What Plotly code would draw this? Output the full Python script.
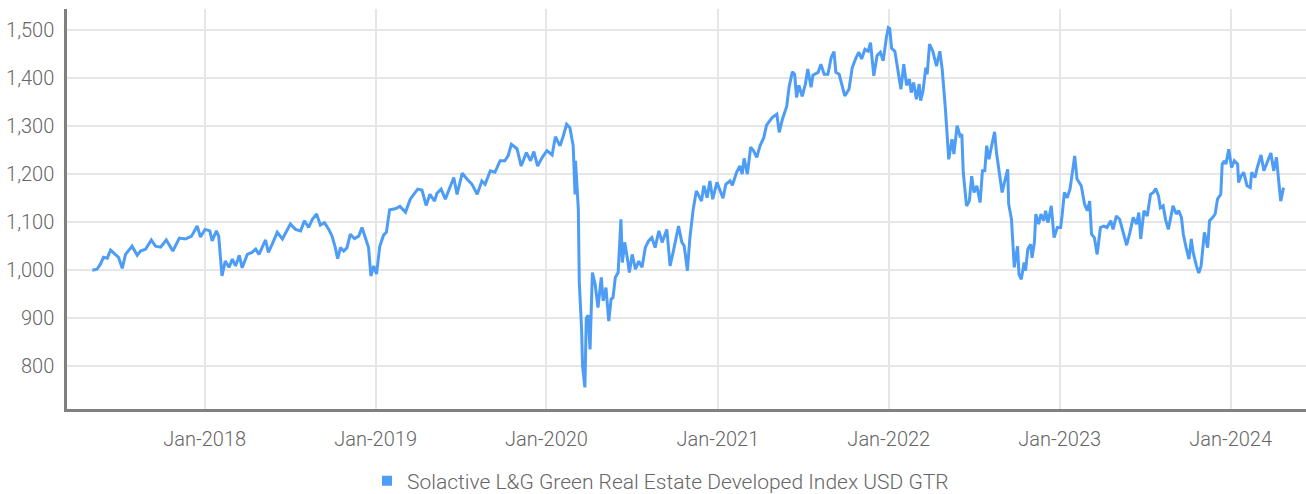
import plotly.graph_objects as go

SERIES_NAME = "Solactive L&G Green Real Estate Developed Index USD GTR"

dates = [
    "2017-05-06", "2017-05-16", "2017-05-23", "2017-05-30", "2017-06-07", "2017-06-14",
    "2017-06-24", "2017-07-01", "2017-07-09", "2017-07-16", "2017-07-30", "2017-08-10",
    "2017-08-17", "2017-08-28", "2017-09-09", "2017-09-18", "2017-09-29", "2017-10-11",
    "2017-10-25", "2017-11-08", "2017-11-21", "2017-12-04", "2017-12-16", "2017-12-23",
    "2018-01-02", "2018-01-12", "2018-01-17", "2018-01-26", "2018-01-31", "2018-02-07",
    "2018-02-14", "2018-02-22", "2018-03-01", "2018-03-08", "2018-03-16", "2018-03-22",
    "2018-04-02", "2018-04-12", "2018-04-20", "2018-04-27", "2018-05-11", "2018-05-17",
    "2018-05-25", "2018-06-05", "2018-06-16", "2018-06-26", "2018-07-03", "2018-07-14",
    "2018-07-25", "2018-08-02", "2018-08-11", "2018-08-19", "2018-08-28", "2018-09-05",
    "2018-09-14", "2018-09-23", "2018-09-30", "2018-10-07", "2018-10-12", "2018-10-18",
    "2018-10-25", "2018-11-01", "2018-11-08", "2018-11-17", "2018-11-26", "2018-12-03",
    "2018-12-10", "2018-12-17", "2018-12-22", "2018-12-28",
    "2019-01-03", "2019-01-10", "2019-01-18", "2019-01-24", "2019-01-31", "2019-02-12",
    "2019-02-22", "2019-03-06", "2019-03-16", "2019-04-01", "2019-04-10", "2019-04-19",
    "2019-04-27", "2019-05-07", "2019-05-12", "2019-05-21", "2019-05-30", "2019-06-10",
    "2019-06-17", "2019-06-24", "2019-07-05", "2019-07-15", "2019-07-26", "2019-08-06",
    "2019-08-16", "2019-08-23", "2019-09-03", "2019-09-13", "2019-09-24", "2019-10-04",
    "2019-10-11", "2019-10-18", "2019-10-30", "2019-11-08", "2019-11-19", "2019-11-28",
    "2019-12-05", "2019-12-13", "2019-12-23",
    "2020-01-02", "2020-01-13", "2020-01-20", "2020-01-30", "2020-02-06", "2020-02-13",
    "2020-02-20", "2020-02-27", "2020-03-02", "2020-03-03", "2020-03-09", "2020-03-11",
    "2020-03-16", "2020-03-18", "2020-03-23", "2020-03-26", "2020-03-30", "2020-04-03",
    "2020-04-08", "2020-04-14", "2020-04-20", "2020-04-27", "2020-05-01", "2020-05-07",
    "2020-05-13", "2020-05-18", "2020-05-22", "2020-05-27", "2020-06-02", "2020-06-08",
    "2020-06-11", "2020-06-16", "2020-06-22", "2020-06-26", "2020-07-02", "2020-07-09",
    "2020-07-16", "2020-07-23", "2020-07-30", "2020-08-06", "2020-08-13", "2020-08-20",
    "2020-08-28", "2020-09-04", "2020-09-14", "2020-09-21", "2020-09-28", "2020-10-09",
    "2020-10-16", "2020-10-21", "2020-10-28", "2020-11-02", "2020-11-09", "2020-11-16",
    "2020-11-20", "2020-11-27", "2020-12-02", "2020-12-09", "2020-12-15", "2020-12-21",
    "2020-12-30",
    "2021-01-07", "2021-01-12", "2021-01-18", "2021-01-27", "2021-02-01", "2021-02-10",
    "2021-02-17", "2021-02-22", "2021-02-26", "2021-03-05", "2021-03-12", "2021-03-18",
    "2021-03-25", "2021-04-01", "2021-04-09", "2021-04-15", "2021-04-27", "2021-05-07",
    "2021-05-12", "2021-05-19", "2021-05-28", "2021-06-02", "2021-06-09", "2021-06-14",
    "2021-06-18", "2021-06-23", "2021-06-30", "2021-07-07", "2021-07-12", "2021-07-19",
    "2021-07-23", "2021-08-03", "2021-08-09", "2021-08-16", "2021-08-24", "2021-08-31",
    "2021-09-06", "2021-09-10", "2021-09-17", "2021-09-22", "2021-09-29", "2021-10-08",
    "2021-10-15", "2021-10-22", "2021-10-29", "2021-11-04", "2021-11-11", "2021-11-18",
    "2021-11-23", "2021-11-30", "2021-12-07", "2021-12-14", "2021-12-20", "2021-12-27",
    "2021-12-31",
    "2022-01-03", "2022-01-07", "2022-01-14", "2022-01-20", "2022-01-27", "2022-02-02",
    "2022-02-08", "2022-02-14", "2022-02-18", "2022-02-23", "2022-03-01", "2022-03-07",
    "2022-03-10", "2022-03-15", "2022-03-21", "2022-03-24", "2022-03-29", "2022-04-05",
    "2022-04-13", "2022-04-20", "2022-04-25", "2022-05-02", "2022-05-09", "2022-05-16",
    "2022-05-20", "2022-05-27", "2022-06-02", "2022-06-06", "2022-06-09", "2022-06-16",
    "2022-06-22", "2022-06-27", "2022-07-02", "2022-07-08", "2022-07-15", "2022-07-20",
    "2022-07-25", "2022-07-29", "2022-08-03", "2022-08-08", "2022-08-15", "2022-08-19",
    "2022-08-24", "2022-08-31", "2022-09-05", "2022-09-12", "2022-09-14", "2022-09-20",
    "2022-09-26", "2022-09-29", "2022-10-03", "2022-10-06", "2022-10-11", "2022-10-17",
    "2022-10-20", "2022-10-25", "2022-10-31", "2022-11-03", "2022-11-08", "2022-11-11",
    "2022-11-17", "2022-11-22", "2022-11-28", "2022-12-02", "2022-12-07", "2022-12-14",
    "2022-12-20", "2022-12-27",
    "2023-01-03", "2023-01-06", "2023-01-11", "2023-01-17", "2023-01-23", "2023-01-27",
    "2023-02-02", "2023-02-07", "2023-02-10", "2023-02-16", "2023-02-23", "2023-03-01",
    "2023-03-06", "2023-03-10", "2023-03-16", "2023-03-22", "2023-03-29", "2023-04-05",
    "2023-04-12", "2023-04-20", "2023-04-25", "2023-05-02", "2023-05-09", "2023-05-17",
    "2023-05-24", "2023-05-31", "2023-06-07", "2023-06-14", "2023-06-19", "2023-06-23",
    "2023-06-30", "2023-07-07", "2023-07-14", "2023-07-20", "2023-07-25", "2023-07-31",
    "2023-08-04", "2023-08-10", "2023-08-15", "2023-08-21", "2023-08-25", "2023-08-31",
    "2023-09-07", "2023-09-12", "2023-09-18", "2023-09-22", "2023-09-28", "2023-10-04",
    "2023-10-09", "2023-10-13", "2023-10-20", "2023-10-25", "2023-10-30", "2023-11-06",
    "2023-11-13", "2023-11-17", "2023-11-24", "2023-11-29", "2023-12-04", "2023-12-11",
    "2023-12-14", "2023-12-19", "2023-12-22", "2023-12-28",
    "2024-01-03", "2024-01-09", "2024-01-16", "2024-01-18", "2024-01-23", "2024-01-29",
    "2024-02-05", "2024-02-12", "2024-02-15", "2024-02-22", "2024-02-27", "2024-03-06",
    "2024-03-12", "2024-03-20", "2024-03-27", "2024-04-02", "2024-04-08", "2024-04-12",
    "2024-04-17", "2024-04-23",
]

index_values = [
    1000, 1002, 1012, 1027, 1025, 1042, 1033, 1027, 1004, 1033, 1050, 1031,
    1040, 1044, 1063, 1050, 1048, 1063, 1040, 1067, 1065, 1071, 1092, 1069,
    1085, 1082, 1061, 1082, 1071, 988, 1019, 1006, 1023, 1009, 1031, 1005,
    1033, 1037, 1044, 1033, 1063, 1037, 1054, 1079, 1065, 1082, 1096, 1085,
    1082, 1103, 1089, 1106, 1117, 1094, 1099, 1085, 1071, 1047, 1024, 1047,
    1040, 1047, 1075, 1066, 1071, 1089, 1068, 1047, 988, 1009,
    992, 1050, 1073, 1079, 1126, 1128, 1133, 1121, 1148, 1169, 1167, 1135,
    1158, 1144, 1160, 1169, 1148, 1177, 1193, 1158, 1202, 1190, 1179, 1158,
    1186, 1179, 1207, 1204, 1228, 1228, 1238, 1262, 1253, 1217, 1245, 1228,
    1247, 1217, 1235,
    1249, 1240, 1278, 1259, 1280, 1304, 1297, 1259, 1158, 1228, 1127, 976,
    877, 800, 756, 900, 906, 835, 995, 970, 922, 985, 936, 964,
    894, 940, 943, 985, 995, 1106, 1016, 1058, 1023, 995, 1033, 1002,
    1019, 1006, 1047, 1061, 1068, 1047, 1082, 1058, 1085, 1009, 1040, 1092,
    1058, 1051, 999, 1065, 1125, 1165, 1158, 1144, 1176, 1151, 1186, 1148,
    1183,
    1162, 1150, 1179, 1186, 1177, 1204, 1217, 1200, 1233, 1200, 1256, 1249,
    1235, 1259, 1276, 1302, 1318, 1325, 1287, 1315, 1341, 1381, 1413, 1408,
    1360, 1385, 1362, 1388, 1419, 1381, 1406, 1412, 1429, 1408, 1408, 1443,
    1455, 1412, 1408, 1391, 1363, 1377, 1422, 1440, 1454, 1440, 1460, 1456,
    1474, 1405, 1447, 1454, 1436, 1485, 1505,
    1503, 1462, 1456, 1419, 1377, 1429, 1385, 1398, 1370, 1391, 1356, 1388,
    1353, 1373, 1422, 1408, 1471, 1456, 1425, 1456, 1419, 1335, 1231, 1273,
    1242, 1301, 1280, 1283, 1204, 1134, 1144, 1196, 1162, 1176, 1141, 1207,
    1207, 1259, 1231, 1256, 1288, 1245, 1210, 1162, 1183, 1210, 1138, 1106,
    1006, 1023, 1050, 992, 981, 1016, 999, 1044, 1054, 1026, 1058, 1117,
    1096, 1117, 1103, 1124, 1099, 1134, 1068, 1089,
    1089, 1113, 1162, 1151, 1169, 1196, 1238, 1190, 1186, 1176, 1138, 1124,
    1144, 1075, 1068, 1033, 1089, 1092, 1089, 1103, 1085, 1113, 1106, 1079,
    1052, 1079, 1110, 1096, 1120, 1065, 1124, 1113, 1158, 1162, 1170, 1155,
    1130, 1134, 1106, 1085, 1106, 1134, 1117, 1124, 1110, 1075, 1047, 1023,
    1065, 1037, 1009, 994, 1009, 1079, 1047, 1103, 1110, 1117, 1148, 1158,
    1221, 1228, 1221, 1252,
    1214, 1228, 1221, 1183, 1196, 1204, 1176, 1172, 1204, 1193, 1214, 1240,
    1207, 1228, 1244, 1207, 1235, 1193, 1144, 1172,
]

LINE_COLOR = "#4d9cf6"
TEXT_COLOR = "#666666"
FONT = dict(family="Roboto", size=20, color=TEXT_COLOR, weight=300)
LEGEND_FONT = dict(family="Roboto", size=21, color=TEXT_COLOR, weight=300)

fig = go.Figure()

fig.add_trace(go.Scatter(
    x=dates, y=index_values, mode="lines",
    line=dict(color=LINE_COLOR, width=3),
    name=SERIES_NAME, showlegend=False, hoverinfo="x+y",
))

# legend entry shown as a square swatch
fig.add_trace(go.Scatter(
    x=[None], y=[None], mode="markers",
    marker=dict(symbol="square", size=10, color=LINE_COLOR),
    name=SERIES_NAME, showlegend=True,
))

fig.update_layout(
    width=1306, height=494,
    margin=dict(l=67, r=0, t=9, b=85),
    paper_bgcolor="white", plot_bgcolor="white",
    font=FONT,
    legend=dict(
        orientation="h", xref="container", x=0.281, xanchor="left",
        yref="container", y=0.026, yanchor="middle",
        font=LEGEND_FONT, itemwidth=30, tracegroupgap=0,
    ),
    xaxis=dict(
        type="date", range=["2017-03-13", "2024-06-10"],
        tick0="2018-01-01", dtick="M12", tickformat="%b-%Y",
        showgrid=True, gridcolor="#e6e6e6", gridwidth=2,
        showline=True, linecolor="#808080", linewidth=2.5,
        ticks="", ticklabelstandoff=10, zeroline=False,
        tickfont=FONT,
    ),
    yaxis=dict(
        range=[711, 1544], tick0=800, dtick=100, tickformat=",d",
        showgrid=True, gridcolor="#e6e6e6", gridwidth=2,
        showline=True, linecolor="#808080", linewidth=2.5,
        ticks="", ticklabelstandoff=6, zeroline=False,
        tickfont=FONT,
    ),
)

fig.write_html("out.html")
